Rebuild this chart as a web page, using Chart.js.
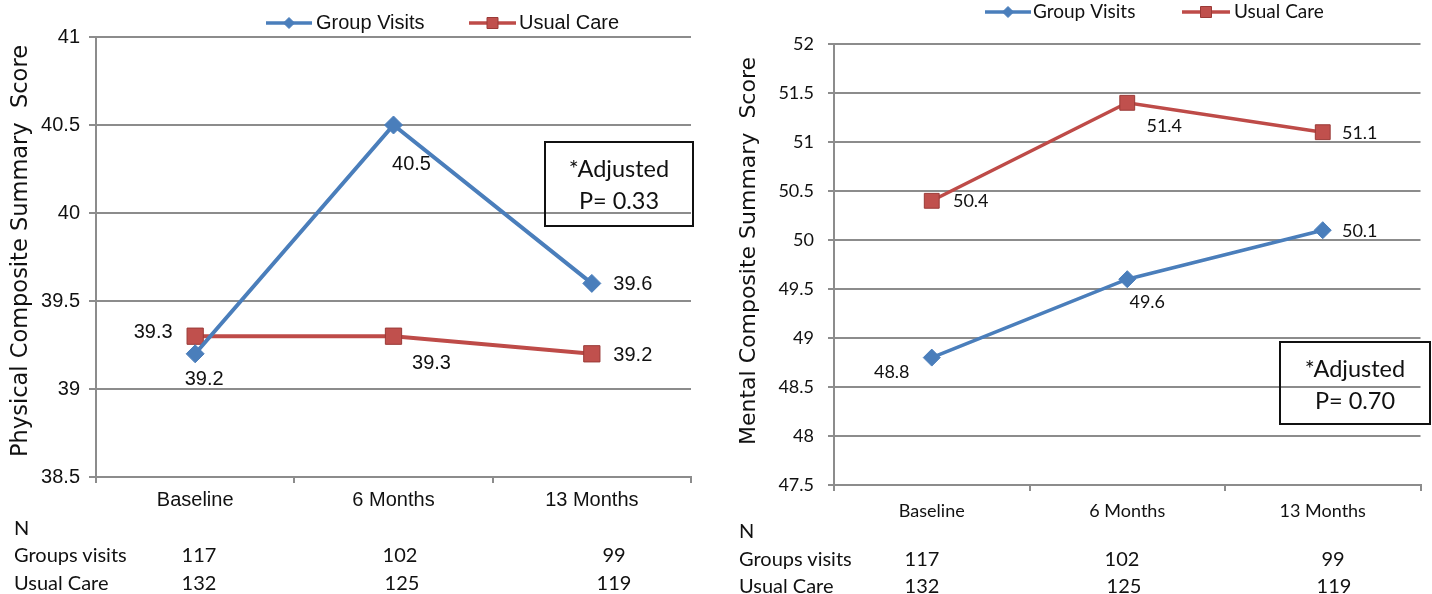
<!DOCTYPE html>
<html>
<head>
<meta charset="utf-8">
<script src="https://cdn.jsdelivr.net/npm/chart.js@4/dist/chart.umd.min.js"></script>
<style>
html,body{margin:0;padding:0;background:#fff;}
body{width:1432px;height:594px;position:relative;overflow:hidden;}
canvas{position:absolute;top:0;}
.t{position:absolute;font-family:Lato,"Liberation Sans",sans-serif;color:#111;white-space:nowrap;line-height:1;font-size:20px;}
.c{transform:translate(-50%,-50%);}
.l{transform:translate(0,-50%);}
.box{position:absolute;border:2px solid #111;box-sizing:border-box;font-family:Lato,"Liberation Sans",sans-serif;color:#111;font-size:23.5px;text-align:center;}
.box div{position:absolute;left:0;right:0;line-height:1;}
</style>
</head>
<body>
<canvas id="c1" width="715" height="594" style="left:0"></canvas>
<canvas id="c2" width="717" height="594" style="left:715px"></canvas>
<div id="overlay"></div>
<script>
// ---- data ----
const categories = ['Baseline', '6 Months', '13 Months'];
const seriesNames = ['Group Visits', 'Usual Care'];
const physGroupVisits = [39.2, 40.5, 39.6];
const physUsualCare = [39.3, 39.3, 39.2];
const mentGroupVisits = [48.8, 49.6, 50.1];
const mentUsualCare = [50.4, 51.4, 51.1];
const physTicks = [38.5, 39, 39.5, 40, 40.5, 41];
const mentTicks = [47.5, 48, 48.5, 49, 49.5, 50, 50.5, 51, 51.5, 52];
const nRowLabels = ['Groups visits', 'Usual Care'];
const nGroupVisits = [117, 102, 99];
const nUsualCare = [132, 125, 119];
const physTitle = 'Physical Composite Summary  Score';
const mentTitle = 'Mental Composite Summary  Score';
const physNote = ['*Adjusted', 'P= 0.33'];
const mentNote = ['*Adjusted', 'P= 0.70'];

// ---- styles ----
const BLUE = '#4A7EBB';
const RED = '#BE4B48';
const RED_FILL = '#C0504D';
const RED_EDGE = '#9A3A37';
const GRID = '#8C8C8C';
const TXT = '#111';
const ARIAL = '"Liberation Sans", Arial, sans-serif';
const LATO = 'Lato, "Liberation Sans", sans-serif';

function drawMarker(ctx, style, x, y, r, fill, edge) {
  ctx.save();
  ctx.fillStyle = fill; ctx.strokeStyle = edge; ctx.lineWidth = 1;
  ctx.beginPath();
  if (style === 'rectRot') {
    ctx.moveTo(x - r, y); ctx.lineTo(x, y - r); ctx.lineTo(x + r, y); ctx.lineTo(x, y + r); ctx.closePath();
  } else {
    ctx.rect(x - r, y - r, 2 * r, 2 * r);
  }
  ctx.fill(); ctx.stroke();
  ctx.restore();
}

const decoPlugin = {
  id: 'deco',
  afterDatasetsDraw(chart, args, o) {
    const ctx = chart.ctx;
    ctx.save();
    ctx.font = o.labelFont;
    ctx.fillStyle = TXT;
    ctx.textAlign = 'center';
    ctx.textBaseline = 'middle';
    chart.data.datasets.forEach((ds, di) => {
      const meta = chart.getDatasetMeta(di);
      meta.data.forEach((pt, i) => {
        const off = o.labelOffsets[di][i];
        ctx.fillText(ds.data[i].toFixed(1), pt.x + off[0], pt.y + off[1]);
      });
    });
    ctx.restore();
  },
  afterDraw(chart, args, o) {
    const ctx = chart.ctx;
    ctx.save();
    // legend
    chart.data.datasets.forEach((ds, di) => {
      const it = o.legend[di];
      ctx.strokeStyle = ds.borderColor;
      ctx.lineWidth = 3.5;
      ctx.beginPath(); ctx.moveTo(it.x1, it.y); ctx.lineTo(it.x2, it.y); ctx.stroke();
      const mx = (it.x1 + it.x2) / 2;
      if (ds.pointStyle === 'rectRot') drawMarker(ctx, 'rectRot', mx, it.y, o.legendDiamond, BLUE, BLUE);
      else drawMarker(ctx, 'rect', mx, it.y, o.legendSquare, RED_FILL, RED_EDGE);
      ctx.fillStyle = TXT;
      ctx.font = o.legendFont;
      ctx.textAlign = 'left'; ctx.textBaseline = 'middle';
      ctx.fillText(ds.label, it.tx, it.y);
    });
    // y title
    ctx.translate(o.yTitle.x, o.yTitle.y);
    ctx.rotate(-Math.PI / 2);
    ctx.font = o.yTitle.font;
    ctx.fillStyle = TXT;
    ctx.textAlign = 'center'; ctx.textBaseline = 'middle';
    ctx.fillText(o.yTitle.text, 0, 0);
    ctx.restore();
  }
};

function buildChart(id, cfg) {
  return new Chart(document.getElementById(id), {
    type: 'line',
    data: {
      labels: categories,
      datasets: [
        {label: seriesNames[0], data: cfg.gv, borderColor: BLUE, backgroundColor: BLUE,
         borderWidth: cfg.lw, pointStyle: 'rectRot', pointRadius: cfg.dRad,
         pointBackgroundColor: BLUE, pointBorderColor: BLUE, pointBorderWidth: 1, tension: 0},
        {label: seriesNames[1], data: cfg.uc, borderColor: RED, backgroundColor: RED,
         borderWidth: cfg.lw, pointStyle: 'rect', pointRadius: cfg.sRad,
         pointBackgroundColor: RED_FILL, pointBorderColor: RED_EDGE, pointBorderWidth: 1, tension: 0}
      ]
    },
    options: {
      responsive: false,
      animation: false,
      layout: {padding: cfg.padding},
      plugins: {legend: {display: false}, tooltip: {enabled: false}, deco: cfg.deco},
      scales: {
        x: {
          offset: true,
          grid: {offset: true, drawOnChartArea: false, drawTicks: true, tickLength: 6, color: GRID, lineWidth: 2},
          border: {color: GRID, width: 2},
          ticks: {font: cfg.tickFont, color: TXT, padding: cfg.xPad, maxRotation: 0},
          afterFit: s => { s.height = 40; }
        },
        y: {
          min: cfg.ticks[0], max: cfg.ticks[cfg.ticks.length - 1],
          afterBuildTicks: s => { s.ticks = cfg.ticks.map(v => ({value: v})); },
          grid: {color: GRID, lineWidth: 2, tickLength: cfg.yTick},
          border: {color: GRID, width: 2},
          ticks: {font: cfg.tickFont, color: TXT, padding: cfg.yPad, callback: v => String(v)},
          afterFit: s => { s.width = cfg.yWidth; }
        }
      }
    },
    plugins: [decoPlugin]
  });
}

buildChart('c1', {
  gv: physGroupVisits, uc: physUsualCare, ticks: physTicks,
  lw: 4, dRad: 9, sRad: 11.5,
  padding: {top: 37, right: 24, bottom: 77, left: 0},
  yWidth: 96, yTick: 7, yPad: 9, xPad: 5,
  tickFont: {family: ARIAL, size: 20},
  deco: {
    labelFont: '20px ' + ARIAL,
    labelOffsets: [[[9, 26], [18, 39], [41, 1]], [[-42, -4], [38, 27], [41, 2]]],
    legend: [{x1: 266, x2: 312, y: 23, tx: 316}, {x1: 469, x2: 516, y: 23, tx: 519}],
    legendFont: '20px ' + ARIAL, legendDiamond: 5.5, legendSquare: 5.5,
    yTitle: {text: physTitle, x: 21, y: 251, font: '22.5px "DejaVu Sans", sans-serif'}
  }
});

buildChart('c2', {
  gv: mentGroupVisits, uc: mentUsualCare, ticks: mentTicks,
  lw: 3.5, dRad: 8.5, sRad: 10.5,
  padding: {top: 44, right: 8, bottom: 69, left: 0},
  yWidth: 119, yTick: 6, yPad: 14, xPad: 9,
  tickFont: {family: LATO, size: 18},
  deco: {
    labelFont: '18px ' + LATO,
    labelOffsets: [[[-40, 15], [20, 23], [37, 1]], [[39, 0], [37, 23], [37, 1]]],
    legend: [{x1: 270, x2: 316, y: 12, tx: 318}, {x1: 467, x2: 515, y: 12, tx: 519}],
    legendFont: '19px ' + LATO, legendDiamond: 5.5, legendSquare: 5.5,
    yTitle: {text: mentTitle, x: 34, y: 251, font: '22px "DejaVu Sans", sans-serif'}
  }
});

// ---- N table and notes (HTML text) ----
const overlay = document.getElementById('overlay');
function addText(txt, x, y, cls) {
  const d = document.createElement('div');
  d.className = 't ' + cls;
  d.style.left = x + 'px'; d.style.top = y + 'px';
  d.textContent = txt;
  overlay.appendChild(d);
}
function addTable(nx, ny, rowY, cols) {
  addText('N', nx, ny, 'l');
  addText(nRowLabels[0], nx, rowY[0], 'l');
  addText(nRowLabels[1], nx, rowY[1], 'l');
  nGroupVisits.forEach((v, i) => addText(String(v), cols[0][i], rowY[0], 'c'));
  nUsualCare.forEach((v, i) => addText(String(v), cols[1][i], rowY[1], 'c'));
}
addTable(14, 527, [554, 582], [[199, 400, 614], [199, 402, 614]]);
addTable(739, 530, [558, 585], [[922, 1122, 1333], [922, 1124, 1334]]);

function addBox(note, x, y, w, h, l1, l2) {
  const b = document.createElement('div');
  b.className = 'box';
  b.style.left = x + 'px'; b.style.top = y + 'px';
  b.style.width = w + 'px'; b.style.height = h + 'px';
  [l1, l2].forEach((yy, i) => {
    const d = document.createElement('div');
    d.style.top = (yy - y - 12) + 'px';
    d.textContent = note[i];
    b.appendChild(d);
  });
  overlay.appendChild(b);
}
addBox(physNote, 544, 141, 150, 86, 167, 199);
addBox(mentNote, 1279, 341, 152, 84, 367, 399);
</script>
</body>
</html>
